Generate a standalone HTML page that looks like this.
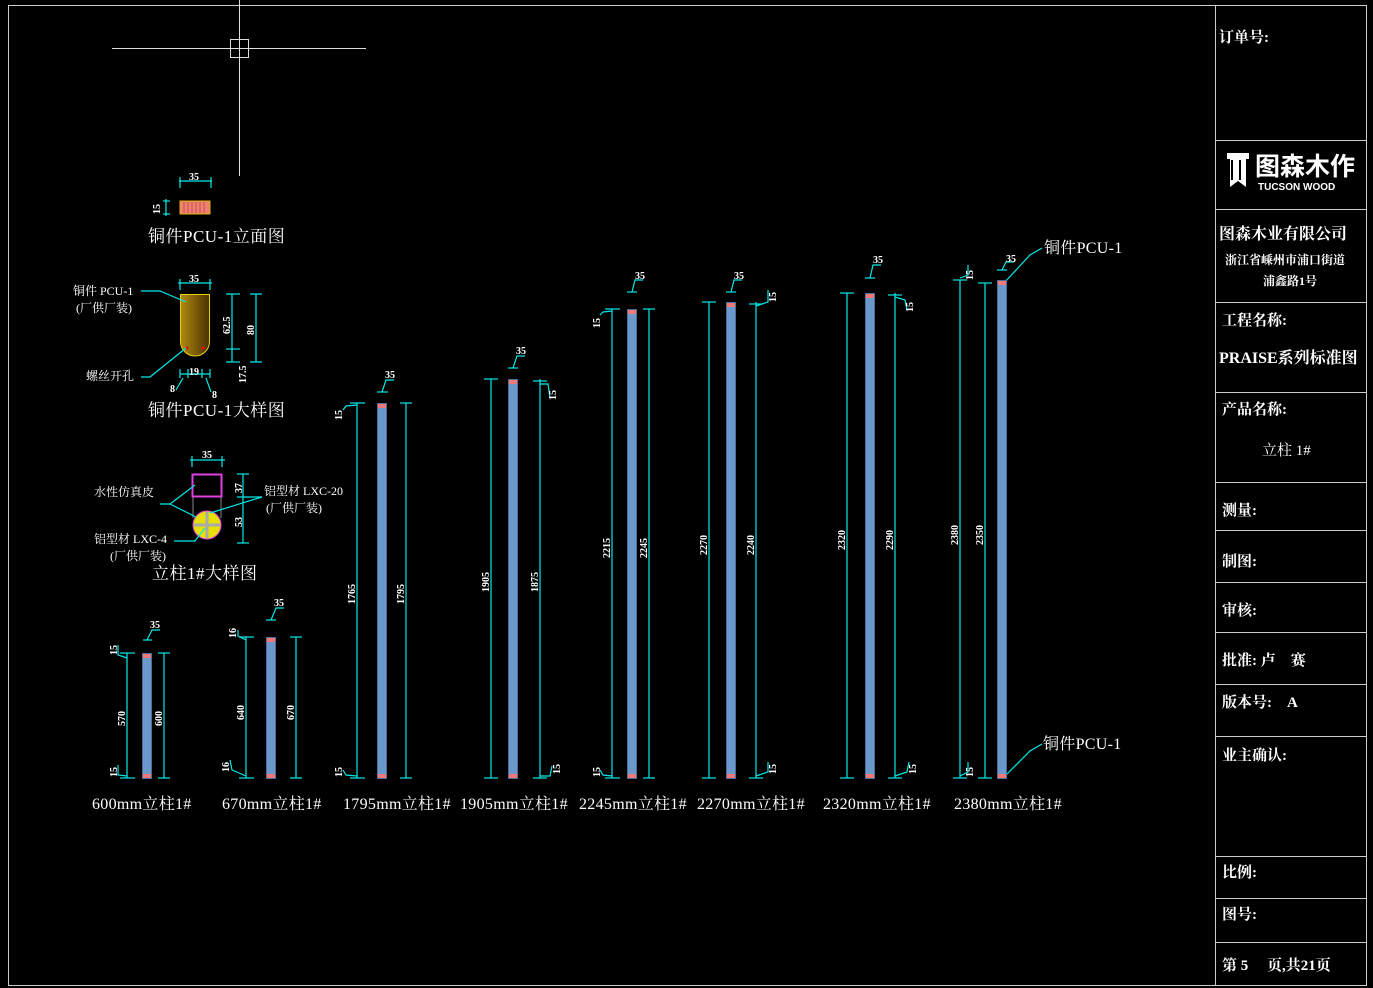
<!DOCTYPE html>
<html><head><meta charset="utf-8"><style>
html,body{margin:0;padding:0;background:#000;}
svg{display:block}
text{font-family:"Liberation Serif","Noto Serif CJK SC","Noto Sans CJK SC",serif;fill:#fff}
.d{font-size:10px;font-weight:bold}
.l{font-size:16px;letter-spacing:0.3px}
.h{font-size:17px;letter-spacing:0.5px}
.t{font-size:15px;font-weight:bold}
</style></head><body>
<svg width="1373" height="988" viewBox="0 0 1373 988" xmlns="http://www.w3.org/2000/svg">
<rect width="1373" height="988" fill="#000"/>
<rect x="8.5" y="5.5" width="1358" height="980" fill="none" stroke="#ccc" stroke-width="1"/>
<line x1="1215.5" y1="5" x2="1215.5" y2="985" stroke="#ccc"/>
<g stroke="#ccc">
<line x1="1215" y1="140.5" x2="1367" y2="140.5"/>
<line x1="1215" y1="209.5" x2="1367" y2="209.5"/>
<line x1="1215" y1="302.5" x2="1367" y2="302.5"/>
<line x1="1215" y1="392.5" x2="1367" y2="392.5"/>
<line x1="1215" y1="482.5" x2="1367" y2="482.5"/>
<line x1="1215" y1="530.5" x2="1367" y2="530.5"/>
<line x1="1215" y1="582.5" x2="1367" y2="582.5"/>
<line x1="1215" y1="632.5" x2="1367" y2="632.5"/>
<line x1="1215" y1="684.5" x2="1367" y2="684.5"/>
<line x1="1215" y1="736.5" x2="1367" y2="736.5"/>
<line x1="1215" y1="856.5" x2="1367" y2="856.5"/>
<line x1="1215" y1="898.5" x2="1367" y2="898.5"/>
<line x1="1215" y1="942.5" x2="1367" y2="942.5"/>
</g>
<text class="t" x="1219" y="42">订单号:</text>
<path d="M1227 153h22v6h-3v28l-8-6-8 6v-28h-3z" fill="#fff"/>
<path d="M1232 160v20M1240 160v20" stroke="#000" stroke-width="2"/>
<text x="1255" y="175" style="font-size:25px;font-weight:bold;font-family:'Noto Sans CJK SC',sans-serif">图森木作</text>
<text x="1258" y="190" style="font-size:10px;font-weight:bold;font-family:'Liberation Sans',sans-serif">TUCSON WOOD</text>
<text class="t" x="1219" y="239" style="font-size:16px">图森木业有限公司</text>
<text x="1225" y="264" style="font-size:12px;font-weight:bold">浙江省嵊州市浦口街道</text>
<text x="1263" y="285" style="font-size:12px;font-weight:bold">浦鑫路1号</text>
<text class="t" x="1222" y="325">工程名称:</text>
<text class="t" x="1219" y="363" style="font-size:16px">PRAISE系列标准图</text>
<text class="t" x="1222" y="414">产品名称:</text>
<text x="1262" y="455" style="font-size:15px">立柱 1#</text>
<text class="t" x="1222" y="515">测量:</text>
<text class="t" x="1222" y="566">制图:</text>
<text class="t" x="1222" y="615">审核:</text>
<text class="t" x="1222" y="665">批准: 卢　赛</text>
<text class="t" x="1222" y="707">版本号:　A</text>
<text class="t" x="1222" y="760">业主确认:</text>
<text class="t" x="1222" y="877">比例:</text>
<text class="t" x="1222" y="919">图号:</text>
<text class="t" x="1222" y="970">第 5　 页,共21页</text>

<g stroke="#ddd">
<line x1="112" y1="48.5" x2="366" y2="48.5"/>
<line x1="239.5" y1="0" x2="239.5" y2="176"/>
<rect x="230.5" y="39.5" width="18" height="18" fill="none"/>
</g>

<g stroke="#00e8e8" stroke-width="1.2" fill="none">
<line x1="179" y1="181" x2="212" y2="181"/><line x1="180" y1="177" x2="180" y2="188"/><line x1="211" y1="177" x2="211" y2="188"/>
<line x1="163" y1="201" x2="170" y2="201"/><line x1="163" y1="214" x2="170" y2="214"/><line x1="166" y1="199" x2="166" y2="216"/>
</g>
<text class="d" x="189" y="180">35</text>
<text class="d" transform="translate(160,214) rotate(-90)">15</text>
<rect x="180" y="201" width="30" height="13" fill="#f08070" stroke="#e0b000"/>
<g stroke="#c05050"><line x1="184" y1="202" x2="184" y2="213"/><line x1="188" y1="202" x2="188" y2="213"/><line x1="192" y1="202" x2="192" y2="213"/><line x1="196" y1="202" x2="196" y2="213"/><line x1="200" y1="202" x2="200" y2="213"/><line x1="204" y1="202" x2="204" y2="213"/></g>
<text class="h" x="148" y="242">铜件PCU-1立面图</text>

<defs><linearGradient id="g1" x1="0" x2="1"><stop offset="0" stop-color="#b08a10"/><stop offset="1" stop-color="#4a3200"/></linearGradient></defs>
<path d="M180.5 294.5h29v47a14.5 14.5 0 0 1 -29 0z" fill="url(#g1)" stroke="#e8d000"/>
<circle cx="187" cy="348" r="1.5" fill="#f00"/><circle cx="203" cy="348" r="1.5" fill="#f00"/>
<g stroke="#00e8e8" stroke-width="1.2" fill="none">
<line x1="178" y1="283" x2="212" y2="283"/><line x1="180" y1="279" x2="180" y2="290"/><line x1="210" y1="279" x2="210" y2="290"/>
<line x1="232" y1="294" x2="232" y2="349"/><line x1="226" y1="294" x2="240" y2="294"/><line x1="226" y1="349" x2="240" y2="349"/>
<line x1="232" y1="349" x2="232" y2="362"/><line x1="226" y1="362" x2="240" y2="362"/>
<line x1="256" y1="294" x2="256" y2="362"/><line x1="250" y1="294" x2="262" y2="294"/><line x1="250" y1="362" x2="262" y2="362"/>
<line x1="180" y1="374" x2="210" y2="374"/><line x1="180" y1="369" x2="180" y2="378"/><line x1="188" y1="369" x2="188" y2="378"/><line x1="202" y1="369" x2="202" y2="378"/><line x1="210" y1="369" x2="210" y2="378"/>
<polyline points="141,291 160,291 186,302"/>
<polyline points="141,377 150,377 186,348"/>
<line x1="183" y1="378" x2="176" y2="390"/><line x1="206" y1="378" x2="211" y2="392"/>
</g>
<text class="d" x="189" y="282">35</text>
<text class="d" x="189" y="375">19</text>
<text class="d" x="170" y="392">8</text><text class="d" x="212" y="398">8</text>
<text class="d" transform="translate(230,334) rotate(-90)">62.5</text>
<text class="d" transform="translate(254,335) rotate(-90)">80</text>
<text class="d" transform="translate(246,383) rotate(-90)">17.5</text>
<text x="73" y="295" style="font-size:12px">铜件 PCU-1</text>
<text x="76" y="312" style="font-size:12px">(厂供厂装)</text>
<text x="86" y="380" style="font-size:12px">螺丝开孔</text>
<text class="h" x="148" y="416">铜件PCU-1大样图</text>

<rect x="192.5" y="474.5" width="29" height="22" fill="none" stroke="#e040e0" stroke-width="2"/>
<line x1="193" y1="497" x2="193" y2="518" stroke="#888"/><line x1="221" y1="497" x2="221" y2="518" stroke="#888"/>
<circle cx="207" cy="525" r="14" fill="#e8e000" stroke="#e040e0"/>
<path d="M207 512v26M194 525h26" stroke="#aaa" stroke-width="3"/>
<g stroke="#00e8e8" stroke-width="1.2" fill="none">
<line x1="190" y1="460" x2="225" y2="460"/><line x1="192" y1="456" x2="192" y2="467"/><line x1="222" y1="456" x2="222" y2="467"/>
<line x1="243" y1="474" x2="243" y2="543"/><line x1="237" y1="474" x2="249" y2="474"/><line x1="237" y1="497" x2="262" y2="497"/><line x1="237" y1="543" x2="249" y2="543"/>
<polyline points="160,504 170,504 195,485"/><line x1="170" y1="504" x2="196" y2="517"/>
<polyline points="174,541 195,541 205,528"/>
<line x1="262" y1="497" x2="210" y2="513"/>
</g>
<text class="d" x="202" y="458">35</text>
<text class="d" transform="translate(242,493) rotate(-90)">37</text>
<text class="d" transform="translate(242,527) rotate(-90)">53</text>
<text x="94" y="496" style="font-size:12px">水性仿真皮</text>
<text x="264" y="495" style="font-size:12px">铝型材 LXC-20</text>
<text x="266" y="512" style="font-size:12px">(厂供厂装)</text>
<text x="94" y="543" style="font-size:12px">铝型材 LXC-4</text>
<text x="110" y="560" style="font-size:12px">(厂供厂装)</text>
<text class="h" x="152" y="579">立柱1#大样图</text>

<g stroke="#00e8e8" stroke-width="1.2" fill="none">
<line x1="127" y1="653" x2="127" y2="778"/><line x1="164" y1="653" x2="164" y2="778"/>
<line x1="120" y1="653" x2="135" y2="653"/><line x1="120" y1="778" x2="135" y2="778"/><line x1="158" y1="653" x2="170" y2="653"/><line x1="158" y1="778" x2="170" y2="778"/>
<line x1="143" y1="640" x2="152" y2="640"/><polyline points="147,640 152,630 160,630"/>
<polyline points="118,645 118,655 127,658"/><polyline points="118,765 118,775 127,776"/>
<line x1="246" y1="637" x2="246" y2="778"/><line x1="296" y1="637" x2="296" y2="778"/>
<line x1="239" y1="637" x2="254" y2="637"/><line x1="239" y1="778" x2="254" y2="778"/><line x1="290" y1="637" x2="302" y2="637"/><line x1="290" y1="778" x2="302" y2="778"/>
<line x1="266" y1="620" x2="276" y2="620"/><polyline points="271,620 276,608 284,608"/>
<polyline points="238,630 238,636 246,640"/><polyline points="230,760 232,770 246,776"/>
<line x1="357" y1="403" x2="357" y2="778"/><line x1="406" y1="403" x2="406" y2="778"/>
<line x1="350" y1="403" x2="365" y2="403"/><line x1="350" y1="778" x2="365" y2="778"/><line x1="400" y1="403" x2="412" y2="403"/><line x1="400" y1="778" x2="412" y2="778"/>
<line x1="377" y1="392" x2="388" y2="392"/><polyline points="382,392 386,380 394,380"/>
<polyline points="343,410 346,406 357,405"/><polyline points="343,770 346,775 357,776"/>
<line x1="491" y1="379" x2="491" y2="778"/><line x1="540" y1="379" x2="540" y2="778"/>
<line x1="484" y1="379" x2="498" y2="379"/><line x1="484" y1="778" x2="498" y2="778"/><line x1="533" y1="381" x2="547" y2="381"/><line x1="533" y1="778" x2="547" y2="778"/>
<line x1="508" y1="368" x2="518" y2="368"/><polyline points="513,368 517,356 525,356"/>
<polyline points="540,384 548,384 550,398"/><polyline points="540,776 550,776 552,766"/>
<line x1="612" y1="309" x2="612" y2="778"/><line x1="649" y1="309" x2="649" y2="778"/>
<line x1="605" y1="309" x2="620" y2="309"/><line x1="605" y1="778" x2="620" y2="778"/><line x1="643" y1="309" x2="655" y2="309"/><line x1="643" y1="778" x2="655" y2="778"/>
<line x1="627" y1="292" x2="637" y2="292"/><polyline points="632,292 635,280 643,280"/>
<polyline points="600,315 603,312 612,311"/><polyline points="600,770 603,775 612,776"/>
<line x1="709" y1="302" x2="709" y2="778"/><line x1="756" y1="302" x2="756" y2="778"/>
<line x1="702" y1="302" x2="716" y2="302"/><line x1="702" y1="778" x2="716" y2="778"/><line x1="749" y1="304" x2="763" y2="304"/><line x1="749" y1="778" x2="763" y2="778"/>
<line x1="726" y1="292" x2="736" y2="292"/><polyline points="731,292 734,280 742,280"/>
<polyline points="756,306 768,302 768,290"/><polyline points="756,776 768,772 768,762"/>
<line x1="847" y1="293" x2="847" y2="778"/><line x1="895" y1="293" x2="895" y2="778"/>
<line x1="840" y1="293" x2="854" y2="293"/><line x1="840" y1="778" x2="854" y2="778"/><line x1="888" y1="295" x2="902" y2="295"/><line x1="888" y1="778" x2="902" y2="778"/>
<line x1="865" y1="278" x2="875" y2="278"/><polyline points="870,278 873,265 881,265"/>
<polyline points="895,297 905,300 907,310"/><polyline points="895,776 907,772 909,762"/>
<line x1="960" y1="280" x2="960" y2="778"/><line x1="985" y1="283" x2="985" y2="778"/>
<line x1="953" y1="280" x2="967" y2="280"/><line x1="953" y1="778" x2="967" y2="778"/><line x1="978" y1="283" x2="992" y2="283"/><line x1="978" y1="778" x2="992" y2="778"/>
<line x1="997" y1="270" x2="1007" y2="270"/><polyline points="1002,270 1006,262 1014,262"/>
<polyline points="960,278 968,275 968,265"/><polyline points="960,776 968,772 968,762"/>
<polyline points="1004,283 1030,255 1042,248"/><polyline points="1004,777 1030,751 1042,744"/>
</g>
<g fill="#6a98ca" stroke="#4a6e99">
<rect x="142.5" y="653.5" width="9" height="125"/>
<rect x="266.5" y="637.5" width="9" height="141"/>
<rect x="377.5" y="403.5" width="9" height="375"/>
<rect x="508.5" y="379.5" width="9" height="399"/>
<rect x="627.5" y="309.5" width="9" height="469"/>
<rect x="726.5" y="302.5" width="9" height="476"/>
<rect x="865.5" y="293.5" width="9" height="485"/>
<rect x="997.5" y="280.5" width="9" height="498"/>
</g>
<g fill="#f07878">
<rect x="143" y="654" width="8" height="4"/><rect x="143" y="774" width="8" height="4"/>
<rect x="267" y="638" width="8" height="4"/><rect x="267" y="774" width="8" height="4"/>
<rect x="378" y="404" width="8" height="4"/><rect x="378" y="774" width="8" height="4"/>
<rect x="509" y="380" width="8" height="4"/><rect x="509" y="774" width="8" height="4"/>
<rect x="628" y="310" width="8" height="4"/><rect x="628" y="774" width="8" height="4"/>
<rect x="727" y="303" width="8" height="4"/><rect x="727" y="774" width="8" height="4"/>
<rect x="866" y="294" width="8" height="4"/><rect x="866" y="774" width="8" height="4"/>
<rect x="998" y="281" width="8" height="4"/><rect x="998" y="774" width="8" height="4"/>
</g>
<text class="d" x="150" y="628">35</text><text class="d" x="274" y="606">35</text><text class="d" x="385" y="378">35</text><text class="d" x="516" y="354">35</text><text class="d" x="635" y="279">35</text><text class="d" x="734" y="279">35</text><text class="d" x="873" y="263">35</text><text class="d" x="1006" y="262">35</text>
<text class="d" transform="translate(125,726) rotate(-90)">570</text><text class="d" transform="translate(162,726) rotate(-90)">600</text>
<text class="d" transform="translate(244,720) rotate(-90)">640</text><text class="d" transform="translate(294,720) rotate(-90)">670</text>
<text class="d" transform="translate(355,604) rotate(-90)">1765</text><text class="d" transform="translate(404,604) rotate(-90)">1795</text>
<text class="d" transform="translate(489,592) rotate(-90)">1905</text><text class="d" transform="translate(538,592) rotate(-90)">1875</text>
<text class="d" transform="translate(610,558) rotate(-90)">2215</text><text class="d" transform="translate(647,558) rotate(-90)">2245</text>
<text class="d" transform="translate(707,555) rotate(-90)">2270</text><text class="d" transform="translate(754,555) rotate(-90)">2240</text>
<text class="d" transform="translate(845,550) rotate(-90)">2320</text><text class="d" transform="translate(893,550) rotate(-90)">2290</text>
<text class="d" transform="translate(958,545) rotate(-90)">2380</text><text class="d" transform="translate(983,545) rotate(-90)">2350</text>
<text class="d" transform="translate(117,655) rotate(-90)">15</text><text class="d" transform="translate(117,777) rotate(-90)">15</text>
<text class="d" transform="translate(236,638) rotate(-90)">16</text><text class="d" transform="translate(229,772) rotate(-90)">16</text>
<text class="d" transform="translate(342,420) rotate(-90)">15</text><text class="d" transform="translate(342,777) rotate(-90)">15</text>
<text class="d" transform="translate(556,400) rotate(-90)">15</text><text class="d" transform="translate(560,774) rotate(-90)">15</text>
<text class="d" transform="translate(600,328) rotate(-90)">15</text><text class="d" transform="translate(600,777) rotate(-90)">15</text>
<text class="d" transform="translate(776,302) rotate(-90)">15</text><text class="d" transform="translate(776,774) rotate(-90)">15</text>
<text class="d" transform="translate(913,312) rotate(-90)">15</text><text class="d" transform="translate(916,774) rotate(-90)">15</text>
<text class="d" transform="translate(973,280) rotate(-90)">15</text><text class="d" transform="translate(973,777) rotate(-90)">15</text>
<text class="l" x="1044" y="253">铜件PCU-1</text>
<text class="l" x="1043" y="749">铜件PCU-1</text>
<text class="l" x="92" y="809">600mm立柱1#</text>
<text class="l" x="222" y="809">670mm立柱1#</text>
<text class="l" x="343" y="809">1795mm立柱1#</text>
<text class="l" x="460" y="809">1905mm立柱1#</text>
<text class="l" x="579" y="809">2245mm立柱1#</text>
<text class="l" x="697" y="809">2270mm立柱1#</text>
<text class="l" x="823" y="809">2320mm立柱1#</text>
<text class="l" x="954" y="809">2380mm立柱1#</text>
</svg>
</body></html>
